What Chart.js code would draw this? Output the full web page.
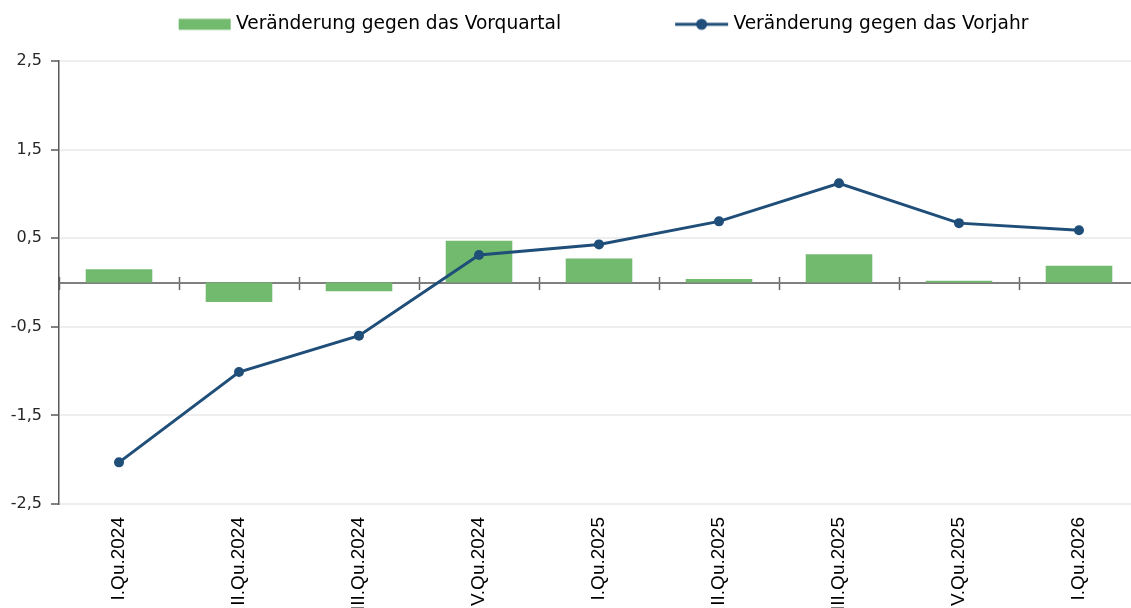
<!DOCTYPE html>
<html>
<head>
<meta charset="utf-8">
<script src="https://cdn.jsdelivr.net/npm/chart.js@4/dist/chart.umd.min.js"></script>
<style>
html,body{margin:0;padding:0;background:#fff;overflow:hidden;}
#wrap{width:1131px;height:608px;overflow:hidden;position:relative;background:#fff;}
canvas{display:block;}
</style>
</head>
<body>
<div id="wrap"><canvas id="c" width="1144" height="640" style="width:1144px;height:640px"></canvas></div>
<script>
// ---- data ----
const categories = ["I.Qu.2024","II.Qu.2024","III.Qu.2024","IV.Qu.2024","I.Qu.2025","II.Qu.2025","III.Qu.2025","IV.Qu.2025","I.Qu.2026"];
const changeVsPrevQuarter = [0.15, -0.22, -0.10, 0.47, 0.27, 0.04, 0.32, 0.02, 0.19];
const changeVsPrevYear = [-2.03, -1.01, -0.60, 0.31, 0.43, 0.69, 1.12, 0.67, 0.59];
const yTickValues = [-2.5, -1.5, -0.5, 0.5, 1.5, 2.5];
const seriesNames = ["Veränderung gegen das Vorquartal", "Veränderung gegen das Vorjahr"];

// ---- styles ----
const barColor = '#72ba6e';
const lineColor = '#1f4e79';
const MW = 148;            // legend pointStyleWidth
const LEGEND_PAD = 15;
const LEGEND_HEIGHT = 61;
const LEGEND_CENTER = 603;

function makeMarker(kind) {
  const c = document.createElement('canvas');
  c.width = MW + 10; c.height = 16;
  const g = c.getContext('2d');
  const end = c.width - 1;
  if (kind === 'bar') {
    g.fillStyle = barColor;
    g.fillRect(end - 52, 2.5, 52, 11);
  } else {
    g.strokeStyle = lineColor; g.lineWidth = 3;
    g.beginPath(); g.moveTo(end - 53, 8); g.lineTo(end, 8); g.stroke();
    g.fillStyle = lineColor;
    g.beginPath(); g.arc(end - 26.5, 8, 5.5, 0, Math.PI * 2); g.fill();
  }
  return c;
}
const legendMarkers = [makeMarker('bar'), makeMarker('line')];

const legendPlacement = {
  id: 'legendPlacement',
  afterInit(chart) {
    const lg = chart.legend;
    const proto = Object.getPrototypeOf(lg);
    lg.fit = function () { proto.fit.call(this); this.height = LEGEND_HEIGHT; };
  },
  afterLayout(chart) {
    const lg = chart.legend;
    if (!lg || !lg.lineWidths) return;
    const pad = lg.options.labels.padding;
    const lw = lg.lineWidths[0];
    const cur = (lg.left + pad + lg.right - lw) / 2;
    const target = LEGEND_CENTER - (MW - 48 + lw - pad) / 2;
    const d = Math.round(target - cur);
    lg.left += d; lg.right += d;
  }
};

new Chart(document.getElementById('c'), {
  type: 'bar',
  data: {
    labels: categories,
    datasets: [
      {
        type: 'bar', label: seriesNames[0], data: changeVsPrevQuarter,
        backgroundColor: barColor, borderWidth: 0,
        categoryPercentage: 1, barPercentage: 0.555, order: 2
      },
      {
        type: 'line', label: seriesNames[1], data: changeVsPrevYear,
        borderColor: lineColor, backgroundColor: lineColor, borderWidth: 3,
        pointRadius: 5, pointBackgroundColor: lineColor, pointBorderWidth: 0,
        tension: 0, fill: false, order: 1
      }
    ]
  },
  options: {
    responsive: false,
    animation: false,
    layout: { padding: { left: 0, right: 1, top: 0, bottom: 0 } },
    plugins: {
      tooltip: { enabled: false },
      legend: {
        position: 'top',
        labels: {
          usePointStyle: true,
          pointStyleWidth: MW,
          padding: LEGEND_PAD,
          color: '#262626',
          font: { family: 'DejaVu Sans', size: 18.6 },
          generateLabels: () => seriesNames.map((name, i) => ({
            text: name, pointStyle: legendMarkers[i], datasetIndex: i,
            hidden: false, fillStyle: 'transparent', strokeStyle: 'transparent', lineWidth: 0
          }))
        }
      }
    },
    scales: {
      x: {
        offset: true,
        grid: { display: false, drawTicks: false },
        border: { display: false },
        ticks: {
          autoSkip: false, minRotation: 90, maxRotation: 90, padding: 13,
          color: '#000', font: { family: 'Liberation Sans', size: 19 }
        },
        afterFit: s => { s.height = 136; }
      },
      x2: {
        type: 'category', position: { y: 0 }, offset: true,
        grid: { offset: true, drawOnChartArea: false, drawTicks: true, tickLength: 6, tickColor: '#666', tickWidth: 1.5 },
        ticks: { display: false },
        border: { display: true, color: '#7f7f7f', width: 2 }
      },
      x3: {
        type: 'category', position: { y: 0 }, offset: true,
        grid: { offset: true, drawOnChartArea: false, drawTicks: true, tickLength: -6, tickColor: '#666', tickWidth: 1.5 },
        ticks: { display: false },
        border: { display: false }
      },
      y: {
        min: -2.5, max: 2.5,
        afterBuildTicks: s => { s.ticks = yTickValues.map(v => ({ value: v })); },
        ticks: {
          color: '#262626', padding: 9,
          font: { family: 'DejaVu Sans', size: 16 },
          callback: v => v.toFixed(1).replace('.', ',')
        },
        grid: { color: '#eeeeee', lineWidth: 2, drawTicks: true, tickLength: 8, tickColor: '#595959', tickWidth: 1.5 },
        border: { display: true, color: '#595959', width: 1.5 },
        afterFit: s => { s.width = 59; }
      }
    }
  },
  plugins: [legendPlacement]
});
</script>
</body>
</html>
